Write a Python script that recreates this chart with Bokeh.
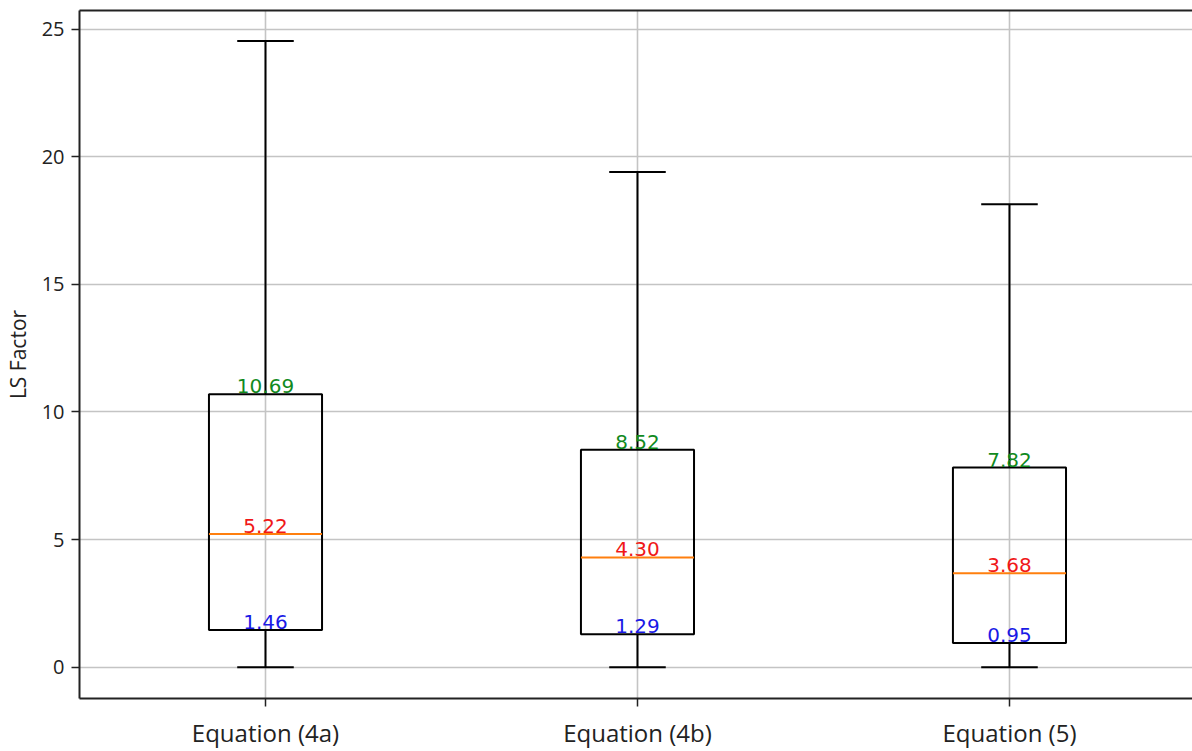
from bokeh.plotting import figure
from bokeh.models import ColumnDataSource, LinearAxis, FixedTicker, Range1d
from bokeh.core.properties import value
from bokeh.embed import file_html
from bokeh.resources import INLINE

categories = ["Equation (4a)", "Equation (4b)", "Equation (5)"]
positions = [1, 2, 3]
whisker_low = [0.0, 0.0, 0.0]
q1 = [1.46, 1.29, 0.95]
median = [5.22, 4.30, 3.68]
q3 = [10.69, 8.52, 7.82]
whisker_high = [24.53, 19.40, 18.14]

box_half = 0.152
cap_half = 0.076

src = ColumnDataSource(dict(
    x=positions,
    left=[p - box_half for p in positions],
    right=[p + box_half for p in positions],
    cl=[p - cap_half for p in positions],
    cr=[p + cap_half for p in positions],
    lo=whisker_low, q1=q1, med=median, q3=q3, hi=whisker_high,
    q1t=[f"{v:.2f}" for v in q1],
    medt=[f"{v:.2f}" for v in median],
    q3t=[f"{v:.2f}" for v in q3],
))

p = figure(width=1192, height=751, output_backend="svg", toolbar_location=None,
           x_range=Range1d(0.5, 3.492), y_range=Range1d(-1.225, 25.725),
           min_border_left=79, min_border_right=0, min_border_top=10, min_border_bottom=53)
p.outline_line_color = None
p.background_fill_color = "white"
p.border_fill_color = "white"

# grid
p.xgrid.grid_line_color = "#c4c4c4"
p.ygrid.grid_line_color = "#c4c4c4"
p.xgrid.grid_line_width = 1.6
p.ygrid.grid_line_width = 1.6

# axes
p.xaxis.ticker = FixedTicker(ticks=positions)
p.xaxis.major_label_overrides = {pos: c for pos, c in zip(positions, categories)}
p.yaxis.ticker = FixedTicker(ticks=[0, 5, 10, 15, 20, 25])
for ax in (p.xaxis[0], p.yaxis[0]):
    ax.axis_line_color = "#222222"
    ax.axis_line_width = 2
    ax.major_tick_line_color = "#222222"
    ax.major_tick_line_width = 1.5
    ax.major_tick_out = 8
    ax.major_tick_in = 0
    ax.minor_tick_line_color = None
    ax.major_label_text_color = "#222222"
p.xaxis.major_label_text_font = "Open Sans"
p.xaxis.major_label_text_font_size = "24px"
p.xaxis.major_label_standoff = 9
p.yaxis.major_label_text_font = "Open Sans"
p.yaxis.major_label_text_font_size = "20px"
p.yaxis.major_label_standoff = 7
p.yaxis.axis_label = "LS Factor"
p.yaxis.axis_label_text_font = "Open Sans"
p.yaxis.axis_label_text_font_style = "normal"
p.yaxis.axis_label_text_font_size = "21px"
p.yaxis.axis_label_text_color = "#222222"
p.yaxis.axis_label_standoff = 7

top = LinearAxis(ticker=FixedTicker(ticks=[]), major_label_text_font_size="0px",
                 axis_line_color="#222222", axis_line_width=2,
                 major_tick_line_color=None, minor_tick_line_color=None)
p.add_layout(top, "above")

# whiskers
p.segment(x0="x", y0="lo", x1="x", y1="q1", source=src, line_color="black", line_width=2)
p.segment(x0="x", y0="q3", x1="x", y1="hi", source=src, line_color="black", line_width=2)
p.segment(x0="cl", y0="lo", x1="cr", y1="lo", source=src, line_color="black", line_width=2)
p.segment(x0="cl", y0="hi", x1="cr", y1="hi", source=src, line_color="black", line_width=2)
# boxes
p.quad(left="left", right="right", bottom="q1", top="q3", source=src,
       fill_color=None, line_color="black", line_width=2)
# medians
p.segment(x0="left", y0="med", x1="right", y1="med", source=src, line_color="#ff7f0e", line_width=2)

# value labels
common = dict(x="x", source=src, text_align="center", text_baseline="alphabetic",
              text_font=value("DejaVu Sans"), text_font_size="20px", y_offset=-8)
p.text(y="q3", text="q3t", text_color="#118a1e", **common)
p.text(y="med", text="medt", text_color="#f01818", **common)
p.text(y="q1", text="q1t", text_color="#1a1ae6", **common)

open("out.html", "w").write(file_html(p, INLINE))
